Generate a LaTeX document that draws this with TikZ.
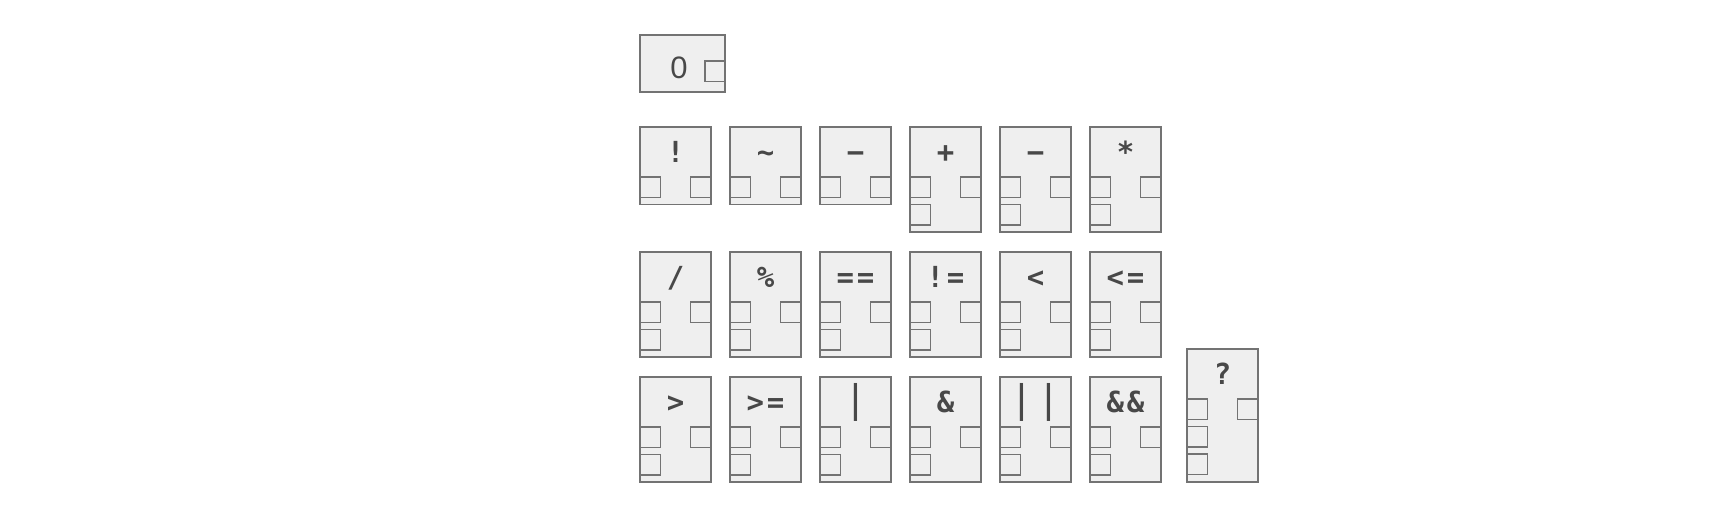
\documentclass[tikz,border=0pt]{standalone}
\usepackage{fontspec}
\newfontfamily\opfont{DejaVu Sans Mono}[LetterSpace=10]
\newfontfamily\constfont{Liberation Sans}
\newcommand\minusglyph{\symbol{"2212}}
\newcommand\pipeglyph{{\mdseries\fontsize{38}{38}\selectfont|}}
\newcommand\pipepair{{\mdseries\fontsize{38}{38}\selectfont||}}
\definecolor{boxfill}{HTML}{EFEFEF}
\definecolor{boxline}{HTML}{737373}
\definecolor{optext}{HTML}{484848}

\begin{document}
\begin{tikzpicture}[x=1pt,y=-1pt,
    box/.style={draw=boxline,fill=boxfill,line width=1.4pt},
    port/.style={draw=boxline,line width=1.4pt},
    optext/.style={text=optext,anchor=base,inner sep=0pt,
        font=\opfont\bfseries\fontsize{29}{29}\selectfont}]
    \useasboundingbox (0,0) rectangle (1728,506);

    % constant
    \draw[box] (640,35) rectangle (725,92);
    \draw[port] (705,61) rectangle +(20.5,20.5);
    \node[optext,font=\constfont\fontsize{31}{31}\selectfont] (zero) at (679,78.5) {0};

    % two ports
    \foreach \x/\t [count=\i] in {640/!,730/\textasciitilde,820/\minusglyph}
    {
        \draw[box] (\x,127) rectangle +(71,77.5);
        \draw[port] (\x,177) rectangle +(20.5,20.5);
        \draw[port] (\x+50.5,177) rectangle +(20.5,20.5);
        \node[optext] (unop\i) at (\x+35.5,162.5) {\t};
    }

    % three ports
    \foreach \x/\y/\t [count=\i] in {910/127/+,1000/127/\minusglyph,1090/127/*,
        640/252/\slash,730/252/\%,820/252/==,910/252/!=,1000/252/<,1090/252/<=,
        640/377/>,730/377/>=,820/377/\pipeglyph,910/377/\&,1000/377/\pipepair,1090/377/\&\&}
    {
        \draw[box] (\x,\y) rectangle +(71,105);
        \draw[port] (\x,\y+50) rectangle +(20.5,20.5);
        \draw[port] (\x+50.5,\y+50) rectangle +(20.5,20.5);
        \draw[port] (\x,\y+77.5) rectangle +(20.5,20.5);
        \node[optext] (binop\i) at (\x+35.5,\y+35.5) {\t};
    }

    % four ports
    \draw[box] (1187,349) rectangle (1258,482);
    \draw[port] (1187,399) rectangle +(20.5,20.5);
    \draw[port] (1237.5,399) rectangle +(20.5,20.5);
    \draw[port] (1187,426.5) rectangle +(20.5,20.5);
    \draw[port] (1187,454) rectangle +(20.5,20.5);
    \node[optext] (cond) at (1222.5,384.5) {?};
\end{tikzpicture}
\end{document}
